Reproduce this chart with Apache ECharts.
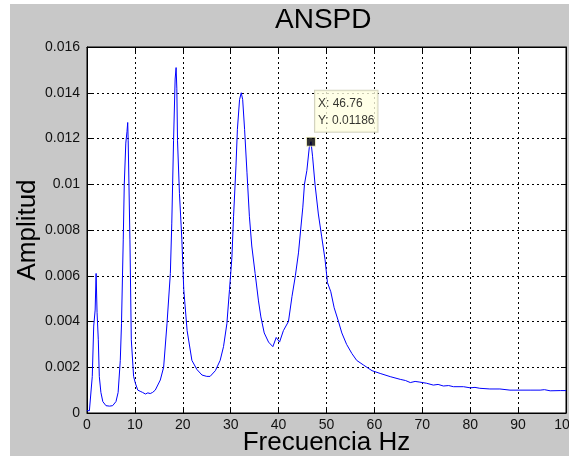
<!DOCTYPE html>
<html>
<head>
<meta charset="utf-8">
<script src="https://cdn.jsdelivr.net/npm/echarts@6/dist/echarts.min.js"></script>
<style>
  html, body { margin: 0; padding: 0; background: #fff; }
  #anspdChart { width: 569px; height: 461px; }
</style>
</head>
<body>
<div id="anspdChart"></div>
<script>
  // frecuencia (Hz) y amplitud
  var freq = [0, 0.5, 0.8, 1.1, 1.4, 1.7, 1.9, 2.1, 2.36, 2.57, 2.9, 3.3, 3.96, 4.7, 5.35, 6.05, 6.5, 6.95,
    7.2, 7.57, 7.78, 8.1, 8.35, 8.5, 8.6, 8.96, 9.25, 9.73, 10.1, 10.6, 11.1, 11.6, 12.2, 12.7, 13.2, 13.7,
    14.25, 15.3, 16.0, 16.7, 17.4, 17.7, 18.07, 18.4, 18.6, 18.75, 18.9, 19.3, 19.8, 20.2, 20.9, 21.9, 22.95,
    24.0, 25.0, 25.7, 26.8, 27.8, 28.5, 29.2, 29.75, 30.25, 30.6, 31.1, 31.4, 31.85, 32.2, 32.5, 32.9, 33.4,
    33.9, 34.4, 35.1, 35.8, 36.3, 37.0, 37.9, 38.8, 39.5, 40.2, 41.0, 42.06, 42.8, 43.5, 44.15, 44.6, 45.06,
    45.4, 45.9, 46.4, 46.76, 47.1, 47.6, 48.3, 49.0, 49.7, 50.2, 50.9, 51.6, 52.5, 53.2, 54.2, 55.3, 56.3,
    57.7, 59.5, 61.2, 63.3, 65.4, 66.5, 67.5, 68.5, 69.5, 70.9, 72.3, 73.3, 74.4, 75.5, 76.5, 78.6, 80.0,
    81.0, 82.0, 84.1, 86.2, 88.3, 90.4, 92.5, 94.6, 95.5, 96.7, 98.8, 100];
  var amp = [0.0001, 0.0001, 0.00015, 0.0016, 0.0038, 0.0045, 0.0061, 0.0044, 0.0032, 0.0016, 0.0009, 0.0005,
    0.00032, 0.0003, 0.00032, 0.0005, 0.0009, 0.0023, 0.0039, 0.0076, 0.0100, 0.0118, 0.0123, 0.0127, 0.0119,
    0.0076, 0.0032, 0.0016, 0.0013, 0.0010, 0.00095, 0.0009, 0.00083, 0.00088, 0.00085, 0.0009, 0.0010,
    0.00144, 0.0020, 0.0039, 0.0061, 0.0083, 0.0119, 0.0146, 0.0151, 0.0142, 0.0119, 0.0096, 0.0076, 0.0054,
    0.0036, 0.0023, 0.0019, 0.00166, 0.0016, 0.0016, 0.00185, 0.0023, 0.0029, 0.0039, 0.0054, 0.0068, 0.0086,
    0.0108, 0.0124, 0.0137, 0.0140, 0.0137, 0.0124, 0.0105, 0.0086, 0.0073, 0.0061, 0.0049, 0.0042, 0.0035,
    0.0031, 0.0029, 0.0033, 0.0031, 0.0036, 0.0040, 0.0051, 0.0060, 0.0070, 0.0080, 0.0090, 0.0100, 0.0106,
    0.0116, 0.01186, 0.0112, 0.0100, 0.0087, 0.0077, 0.0067, 0.0057, 0.0053, 0.0046, 0.0040, 0.0035, 0.0030,
    0.0026, 0.0023, 0.0021, 0.00185, 0.00173, 0.00159, 0.00147, 0.00142, 0.00133, 0.00138, 0.00135, 0.0013,
    0.00122, 0.00125, 0.00118, 0.0012, 0.00115, 0.00115, 0.0011, 0.00112, 0.00108, 0.00105, 0.00105, 0.0010,
    0.0010, 0.0010, 0.0010, 0.00102, 0.00097, 0.00098, 0.00098];
  // punto marcado (data tip)
  var tipPoint = [46.76, 0.01186];

  var font = 'Liberation Sans, Arial, sans-serif';
  var lineData = [];
  for (var i = 0; i < freq.length; i++) {
    lineData.push([freq[i], amp[i]]);
  }

  var chart = echarts.init(document.getElementById('anspdChart'), null, {renderer: 'canvas'});

  var tickStyle = {show: true, inside: true, length: 5, lineStyle: {color: '#000', width: 1}};
  var gridLine = {show: true, lineStyle: {color: '#000', width: 1, type: [2, 3]}};

  chart.setOption({
    animation: false,
    backgroundColor: '#fff',
    graphic: [{
      type: 'rect',
      z: -10,
      shape: {x: 10, y: 4, width: 559, height: 452},
      style: {fill: '#c8c8c8'}
    }],
    title: {
      text: 'ANSPD',
      left: 275,
      top: 6,
      padding: 0,
      textStyle: {fontFamily: font, fontSize: 28, fontWeight: 'normal', color: '#000'}
    },
    grid: {
      left: 87,
      right: 3,
      top: 47,
      bottom: 48,
      outerBoundsMode: 'none',
      containLabel: false,
      show: true,
      backgroundColor: '#fff',
      borderColor: '#000',
      borderWidth: 1
    },
    xAxis: [{
      type: 'value',
      min: 0,
      max: 100,
      interval: 10,
      position: 'bottom',
      name: 'Frecuencia Hz',
      nameLocation: 'middle',
      nameGap: 17,
      nameMoveOverlap: false,
      nameTextStyle: {fontFamily: font, fontSize: 26, color: '#000'},
      axisLine: {show: true, onZero: false, lineStyle: {color: '#000'}},
      axisTick: tickStyle,
      axisLabel: {fontFamily: font, fontSize: 14, color: '#111', margin: 5},
      splitLine: gridLine
    }, {
      type: 'value',
      min: 0,
      max: 100,
      interval: 10,
      position: 'top',
      axisLine: {show: true, onZero: false, lineStyle: {color: '#000'}},
      axisTick: tickStyle,
      axisLabel: {show: false},
      splitLine: {show: false}
    }],
    yAxis: [{
      type: 'value',
      min: 0,
      max: 0.016,
      interval: 0.002,
      position: 'left',
      name: 'Amplitud',
      nameLocation: 'middle',
      nameGap: 46,
      nameMoveOverlap: false,
      nameTextStyle: {fontFamily: font, fontSize: 26, color: '#000'},
      axisLine: {show: true, onZero: false, lineStyle: {color: '#000'}},
      axisTick: tickStyle,
      axisLabel: {
        fontFamily: font, fontSize: 14, color: '#111', margin: 7,
        formatter: function (v) { return String(parseFloat(v.toFixed(3))); }
      },
      splitLine: gridLine
    }, {
      type: 'value',
      min: 0,
      max: 0.016,
      interval: 0.002,
      position: 'right',
      axisLine: {show: true, onZero: false, lineStyle: {color: '#000'}},
      axisTick: tickStyle,
      axisLabel: {show: false},
      splitLine: {show: false}
    }],
    series: [{
      type: 'line',
      data: lineData,
      showSymbol: false,
      smooth: false,
      lineStyle: {color: '#0000ff', width: 1},
      z: 3
    }, {
      type: 'scatter',
      data: [tipPoint],
      symbol: 'rect',
      symbolSize: 9,
      itemStyle: {color: '#000', borderColor: '#ffffcc', borderWidth: 1},
      z: 5,
      label: {
        show: true,
        position: [9, -46],
        formatter: function (p) { return 'X: ' + p.value[0] + '\nY: ' + p.value[1]; },
        fontFamily: font,
        fontSize: 12,
        lineHeight: 17,
        color: '#000',
        backgroundColor: '#ffffe1',
        borderColor: '#c8c8b0',
        borderWidth: 1,
        padding: [4, 3, 3, 3]
      }
    }]
  });
</script>
</body>
</html>
